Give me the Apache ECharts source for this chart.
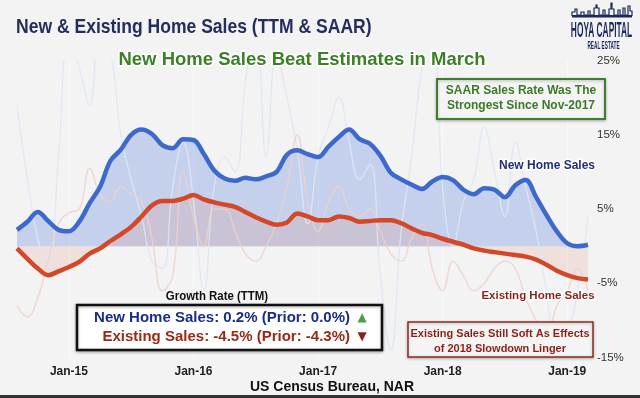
<!DOCTYPE html>
<html>
<head>
<meta charset="utf-8">
<script src="https://cdn.jsdelivr.net/npm/echarts@6/dist/echarts.min.js"></script>
<style>
html,body{margin:0;padding:0;background:#f3f3f3;}
#c{width:640px;height:398px;}
</style>
</head>
<body>
<div id="c"></div>
<script>
const categories = ['Aug-14','Sep-14','Oct-14','Nov-14','Dec-14',
'Jan-15','Feb-15','Mar-15','Apr-15','May-15','Jun-15','Jul-15','Aug-15','Sep-15','Oct-15','Nov-15','Dec-15',
'Jan-16','Feb-16','Mar-16','Apr-16','May-16','Jun-16','Jul-16','Aug-16','Sep-16','Oct-16','Nov-16','Dec-16',
'Jan-17','Feb-17','Mar-17','Apr-17','May-17','Jun-17','Jul-17','Aug-17','Sep-17','Oct-17','Nov-17','Dec-17',
'Jan-18','Feb-18','Mar-18','Apr-18','May-18','Jun-18','Jul-18','Aug-18','Sep-18','Oct-18','Nov-18','Dec-18',
'Jan-19','Feb-19','Mar-19'];

// New home sales, TTM growth (%)
const newTTM = [2.2,3.3,4.6,3.4,2.2,2.0,3.3,5.8,8.0,11.5,
13.0,15.0,15.7,15.1,13.6,13.2,14.4,14.3,12.4,10.2,
9.1,8.8,9.2,9.0,9.4,10.0,12.3,12.9,12.4,12.0,
13.4,14.7,15.7,14.4,13.8,12.2,9.9,9.0,8.3,7.7,
8.7,9.3,8.9,7.6,7.0,7.8,7.6,6.6,8.2,8.9,
6.6,4.2,2.0,0.4,0.0,0.2];

// Existing home sales, TTM growth (%)
const existingTTM = [-0.3,-1.7,-3.0,-3.9,-3.4,-2.8,-2.1,-1.0,-0.3,0.7,
1.6,2.6,4.0,5.5,6.1,6.1,6.4,6.9,6.3,5.9,
5.6,5.3,4.6,3.9,3.3,2.9,3.2,4.4,4.0,3.5,
3.5,4.0,3.8,3.3,3.4,3.5,3.5,3.1,2.4,1.8,
1.5,1.0,0.6,0.2,-0.3,-0.6,-0.8,-1.0,-1.2,-1.4,
-1.8,-2.5,-3.3,-3.9,-4.3,-4.5];

// New home sales, SAAR growth (%) - faint line
const newSAAR = [19,9,1,-3,12,28,24,19,28,26,
15,9,4,-2,-3,8,14,6,-6,8,
12,10,22,30,12,26,20,13,3,12,
16,20,14,9,11,-4,-14,2,12,24,
30,8,0,6,9,16,10,4,14,8,
2,-6,-14,-12,-6,4];

// Existing home sales, SAAR growth (%) - faint line
const existingSAAR = [-8,-9.5,-7,-2,3,4.5,5,10.5,7,6,
8,7,6,1,-6,-4,10,4,0,5,
5,2,-1,-2,0,3,8,15,6,2,
6,8,5,4,5,2,-1,-2,1,3,
-3,-6,-2,-4,-6,-5,-3,-2,-3,-7,
-10,-12,-8,-6,-3,-6];

const yTicks = [-15,-5,5,15,25];

const SANS = "'Liberation Sans',Arial,sans-serif";

const chart = echarts.init(document.getElementById('c'), null, {renderer:'canvas'});

function txt(x,y,text,o,sx){
  const el = {type:'text', x:x, y:y, silent:true, z:100, style:Object.assign({text:text, align:'left', verticalAlign:'middle', fontFamily:SANS, fontSize:12, fontWeight:'bold', fill:'#222'}, o||{})};
  if (sx) el.scaleX = sx;
  return el;
}

const skyline = [[572,16],[572,12],[575,12],[575,9],[577,9],[577,15],[581,15],[581,12],[584,12],[584,15],[588,15],[588,11],[590,11],[590,15],[594,15],[594,8],[596,8],[596,5],[597,5],[597,8],[599,8],[599,15],[603,15],[603,10],[605,10],[605,15],[609,15],[609,9],[611,9],[611,3],[612,3],[612,9],[614,9],[614,15],[618,15],[618,10],[620,10],[620,15],[623,15],[623,8],[625,8],[625,15],[628,15],[628,6],[630,6],[630,11],[632,11],[632,16]];

const option = {
  animation:false,
  backgroundColor:'#f3f3f3',
  grid:{left:17, right:52, top:60.5, bottom:40.4},
  xAxis:{
    type:'category', data:categories, boundaryGap:false,
    axisLine:{show:false, onZero:false}, axisTick:{show:false},
    splitLine:{show:true, interval:function(i,v){return v.indexOf('Jan')===0;}, lineStyle:{color:'rgba(255,255,255,0.55)', width:1}},
    axisLabel:{
      interval:function(i,v){return v.indexOf('Jan')===0;},
      margin:8, fontFamily:SANS, fontWeight:'bold', fontSize:12, color:'#222'
    }
  },
  yAxis:{
    type:'value', position:'right', min:-15, max:25, interval:5,
    axisLine:{show:false}, axisTick:{show:false}, splitLine:{show:false},
    axisLabel:{
      margin:9, fontFamily:SANS, fontSize:11.5, color:'#333',
      formatter:function(v){return yTicks.indexOf(v)>=0 ? v+'%' : '';}
    }
  },
  series:[
    {type:'line', data:newTTM, smooth:0.35, symbol:'none', silent:true, z:1,
      lineStyle:{width:0}, areaStyle:{color:'rgba(70,118,218,0.38)', origin:0}},
    {type:'line', data:existingTTM, smooth:0.35, symbol:'none', silent:true, z:2,
      lineStyle:{width:0}, areaStyle:{color:'rgba(225,110,80,0.2)', origin:0}},
    {type:'line', data:newSAAR, smooth:0.45, symbol:'none', silent:true, z:3,
      lineStyle:{width:1.3, color:'rgba(222,230,245,0.9)'}},
    {type:'line', data:existingSAAR, smooth:0.45, symbol:'none', silent:true, z:3,
      lineStyle:{width:1.3, color:'rgba(240,208,202,0.9)'}},
    {type:'line', data:newTTM, smooth:0.35, symbol:'none', silent:true, z:4,
      lineStyle:{width:4.5, color:'#3d69cc'}},
    {type:'line', data:existingTTM, smooth:0.35, symbol:'none', silent:true, z:5,
      lineStyle:{width:4.5, color:'#d4482a'}}
  ],
  graphic:[
    txt(16,27,'New & Existing Home Sales (TTM & SAAR)',{fontSize:21, fill:'#252d5c'},0.835),
    txt(302,60,'New Home Sales Beat Estimates in March',{align:'center', fontSize:18.5, fill:'#3b7f26', stroke:'#ffffff', lineWidth:3, shadowColor:'rgba(0,0,0,0.35)', shadowBlur:2, shadowOffsetY:1}),
    {type:'polyline', silent:true, z:100, shape:{points:skyline}, style:{stroke:'#1b2a5c', lineWidth:1.2, fill:null}},
    {type:'rect', silent:true, z:100, shape:{x:572, y:15, width:60, height:2.5}, style:{fill:'#1b2a5c'}},
    txt(601.5,30.5,'HOYA CAPITAL',{align:'center', fontSize:22, fill:'#1b2a5c'},0.38),
    txt(603.5,46,'REAL ESTATE',{align:'center', fontSize:11, fill:'#1b2a5c'},0.43),
    {type:'rect', silent:true, z:99, shape:{x:437, y:79, width:168, height:40}, style:{fill:'#f4f4f4', stroke:'#3f7d2f', lineWidth:2, shadowColor:'rgba(0,0,0,0.25)', shadowBlur:3, shadowOffsetY:1}},
    txt(521,91,'SAAR Sales Rate Was The',{align:'center', fill:'#3b7a28', fontSize:12}),
    txt(521,106,'Strongest Since Nov-2017',{align:'center', fill:'#3b7a28', fontSize:12}),
    txt(547,166,'New Home Sales',{align:'center', fill:'#1f2f7a', fontSize:12, stroke:'#ffffff', lineWidth:3}),
    txt(538,296,'Existing Home Sales',{align:'center', fill:'#8e1f16', fontSize:11.5, stroke:'#ffffff', lineWidth:3}),
    {type:'rect', silent:true, z:99, shape:{x:408, y:322, width:185, height:35}, style:{fill:'#f4f4f4', stroke:'#8e2a22', lineWidth:1.5, shadowColor:'rgba(0,0,0,0.25)', shadowBlur:3, shadowOffsetY:1}},
    txt(500,334,'Existing Sales Still Soft As Effects',{align:'center', fill:'#8e1f16', fontSize:11}),
    txt(500,349,'of 2018 Slowdown Linger',{align:'center', fill:'#8e1f16', fontSize:11}),
    txt(217,296,'Growth Rate (TTM)',{align:'center', fill:'#111', fontSize:13},0.88),
    {type:'rect', silent:true, z:99, shape:{x:77, y:305, width:305, height:45}, style:{fill:'#ffffff', stroke:'#111111', lineWidth:2.5, shadowColor:'rgba(0,0,0,0.3)', shadowBlur:3, shadowOffsetY:1}},
    txt(350,318,'New Home Sales: 0.2% (Prior: 0.0%)',{align:'right', fill:'#1a2c8c', fontSize:15}),
    txt(350,337,'Existing Sales: -4.5% (Prior: -4.3%)',{align:'right', fill:'#9a2a17', fontSize:15}),
    txt(362,318,'\u25B2',{align:'center', fill:'#4a9e48', fontSize:12, fontFamily:"'DejaVu Sans',sans-serif", stroke:'#ffffff', lineWidth:1}),
    txt(362,337,'\u25BC',{align:'center', fill:'#8a1e1e', fontSize:12, fontFamily:"'DejaVu Sans',sans-serif", stroke:'#ffffff', lineWidth:1}),
    txt(332,387,'US Census Bureau, NAR',{align:'center', fill:'#111', fontSize:14}),
    {type:'rect', silent:true, z:100, shape:{x:0, y:395, width:640, height:3}, style:{fill:'#333333'}}
  ]
};
chart.setOption(option);
</script>
</body>
</html>
